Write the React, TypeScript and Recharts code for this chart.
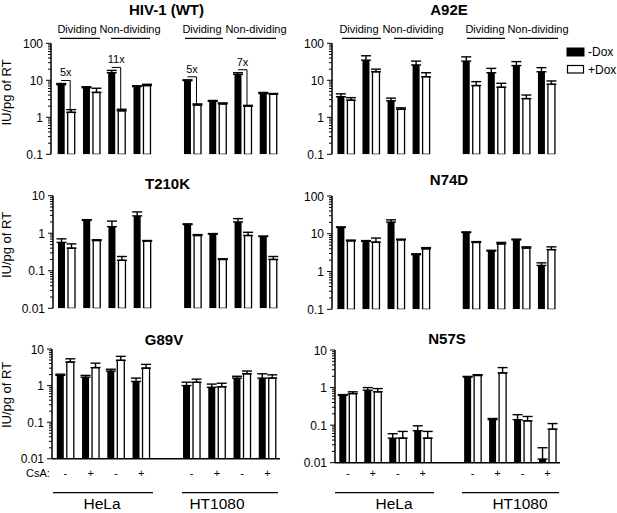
import React from "react";
import { BarChart, Bar, XAxis, YAxis, ErrorBar } from "recharts";

const FONT = "'Liberation Sans', Arial, sans-serif";

// 8 conditions per cell line; a blank slot separates HeLa from HT1080
const groups = [
  "HeLa div -CsA",
  "HeLa div +CsA",
  "HeLa nondiv -CsA",
  "HeLa nondiv +CsA",
  "HT1080 div -CsA",
  "HT1080 div +CsA",
  "HT1080 nondiv -CsA",
  "HT1080 nondiv +CsA",
];
const csaLabels = ["-", "+", "-", "+", "-", "+", "-", "+"];
const seriesNames = ["-Dox", "+Dox"];

// HIV-1 (WT)
const wtNoDox = [7.6, 6.3, 16, 6.8, 9.8, 2.7, 14.5, 4.4];
const wtNoDoxErr = [0.6, 0.4, 2.5, 0.3, 0.5, 0.15, 1.5, 0.3];
const wtDox = [1.36, 4.7, 1.5, 7.2, 2.15, 2.3, 2.0, 4.2];
const wtDoxErr = [0.25, 1.4, 0.15, 0.6, 0.15, 0.15, 0.1, 0.2];
const wtFold = ["5x", "", "11x", "", "5x", "", "7x", ""];

// A92E
const a92eNoDox = [3.6, 35, 2.8, 26, 33, 16, 25, 17];
const a92eNoDoxErr = [0.7, 11, 0.5, 7, 10, 5, 7, 5];
const a92eDox = [2.9, 17, 1.65, 12.5, 7.2, 6.5, 3.2, 7.8];
const a92eDoxErr = [0.5, 3, 0.15, 3.5, 2, 1.8, 0.8, 1.8];

// T210K
const t210kNoDox = [0.57, 2.2, 1.5, 2.9, 1.7, 0.95, 2.0, 0.82];
const t210kNoDoxErr = [0.14, 0.1, 0.6, 0.8, 0.08, 0.03, 0.45, 0.02];
const t210kDox = [0.4, 0.64, 0.19, 0.62, 0.87, 0.2, 0.87, 0.2];
const t210kDoxErr = [0.12, 0.03, 0.05, 0.02, 0.05, 0.01, 0.19, 0.04];

// N74D
const n74dNoDox = [14.7, 6.3, 20.4, 2.8, 10.8, 3.5, 6.9, 1.45];
const n74dNoDoxErr = [0.5, 0.3, 3, 0.15, 0.4, 0.15, 0.3, 0.25];
const n74dDox = [6.5, 6.0, 6.9, 4.0, 5.9, 5.4, 4.2, 3.8];
const n74dDoxErr = [0.3, 1.7, 0.3, 0.3, 0.3, 0.5, 0.3, 0.7];

// G89V
const g89vNoDox = [1.9, 1.7, 2.5, 1.3, 1.0, 0.9, 1.6, 1.6];
const g89vNoDoxErr = [0.15, 0.2, 0.3, 0.3, 0.24, 0.2, 0.2, 0.5];
const g89vDox = [4.4, 3.1, 4.9, 3.0, 1.23, 0.93, 2.1, 1.6];
const g89vDoxErr = [1.0, 1.0, 1.4, 0.8, 0.27, 0.23, 0.4, 0.37];

// N57S
const n57sNoDox = [0.62, 0.85, 0.045, 0.071, 1.9, 0.14, 0.14, 0.0125];
const n57sNoDoxErr = [0.03, 0.15, 0.014, 0.025, 0.08, 0.01, 0.05, 0.0125];
const n57sDox = [0.69, 0.77, 0.045, 0.045, 2.1, 2.45, 0.13, 0.078];
const n57sDoxErr = [0.08, 0.17, 0.023, 0.023, 0.1, 0.95, 0.04, 0.032];

const majorsHigh = [0.1, 1, 10, 100];
const majorsLow = [0.01, 0.1, 1, 10];

function buildRows(noDox: number[], noDoxErr: number[], dox: number[], doxErr: number[], fold?: string[]) {
  const rows: any[] = [];
  groups.forEach((g, i) => {
    if (i === 4) rows.push({ key: "gap", csa: "" });
    rows.push({
      key: g,
      csa: csaLabels[i],
      noDox: noDox[i],
      noDoxE: noDoxErr[i] > 0 ? [0, noDoxErr[i]] : null,
      dox: dox[i],
      doxE: doxErr[i] > 0 ? [0, doxErr[i]] : null,
      noDoxTop: noDox[i] + noDoxErr[i],
      fold: fold ? fold[i] : "",
    });
  });
  return rows;
}

function logTicks(majors: number[]) {
  const out: number[] = [];
  majors.forEach((m, i) => {
    out.push(m);
    if (i < majors.length - 1) for (let k = 2; k <= 9; k++) out.push(m * k);
  });
  return out;
}

const LogTick = (props: any) => {
  const { x, y, payload, majors } = props;
  const major = majors.includes(payload.value);
  return (
    <g>
      <line x1={x - (major ? 5 : 3)} x2={x} y1={y} y2={y} stroke="#000" strokeWidth={1} />
      {major && (
        <text x={x - 8} y={y + 4.5} textAnchor="end" fontSize={12} fontFamily={FONT} fill="#000">
          {String(payload.value)}
        </text>
      )}
    </g>
  );
};

const CsaTick = (props: any) => {
  const { x, payload, textY } = props;
  return (
    <text x={x} y={textY} textAnchor="middle" fontSize={11} fontFamily={FONT} fill="#000">
      {payload.value === "gap" ? "" : csaLabels[groups.indexOf(payload.value)]}
    </text>
  );
};

const makeDoxShape = (min: number) => (props: any) => {
  const { x, y, width, height, payload } = props;
  if (payload == null || payload.dox == null || !(height > 0)) return <g />;
  const rect = <rect x={x} y={y} width={width} height={height} fill="#fff" stroke="#000" strokeWidth={1.3} />;
  if (!payload.fold) return rect;
  const bottom = y + height;
  const ppd = height / Math.log10(payload.dox / min);
  const toY = (v: number) => bottom - ppd * Math.log10(v / min);
  const hy = toY(payload.noDoxTop) - 3;
  const x0 = x - 10 + 3.5;
  const x1 = x + 2.5;
  return (
    <g>
      {rect}
      <polyline points={`${x0},${hy} ${x1},${hy} ${x1},${y - 1}`} fill="none" stroke="#000" strokeWidth={1} />
      <text x={(x0 + x1) / 2} y={hy - 4} textAnchor="middle" fontSize={11} fontFamily={FONT} fill="#000">
        {payload.fold}
      </text>
    </g>
  );
};

interface Geo {
  left: number;
  top: number;
  width: number;
  height: number;
  axisX: number;
  plotTop: number;
  plotBottom: number;
  plotRight: number;
  pad: number;
  csaY?: number;
}

function Panel({ rows, majors, g }: { rows: any[]; majors: number[]; g: Geo }) {
  const xh = g.csaY ? 20 : 0;
  const min = majors[0];
  return (
    <div style={{ position: "absolute", left: g.left, top: g.top }}>
      <BarChart
        width={g.width}
        height={g.height}
        data={rows}
        barSize={7}
        barGap={3}
        margin={{
          top: g.plotTop - g.top,
          bottom: g.top + g.height - g.plotBottom - xh,
          left: 0,
          right: g.left + g.width - g.plotRight,
        }}
      >
        <XAxis
          dataKey="key"
          type="category"
          height={xh}
          interval={0}
          padding={{ left: g.pad, right: 0 }}
          axisLine={{ stroke: "#000", strokeWidth: 1.5 }}
          tickLine={false}
          tickSize={0}
          tick={g.csaY ? <CsaTick textY={g.csaY - g.top} /> : false}
        />
        <YAxis
          type="number"
          scale="log"
          domain={[min, majors[majors.length - 1]]}
          allowDataOverflow
          ticks={logTicks(majors)}
          interval={0}
          width={g.axisX - g.left}
          tickLine={false}
          tickSize={0}
          tickMargin={0}
          tick={<LogTick majors={majors} />}
          axisLine={{ stroke: "#000", strokeWidth: 1.5 }}
        />
        <Bar dataKey="noDox" name={seriesNames[0]} fill="#000" isAnimationActive={false}>
          <ErrorBar dataKey="noDoxE" direction="y" width={5} stroke="#000" strokeWidth={1.4} isAnimationActive={false} />
        </Bar>
        <Bar dataKey="dox" name={seriesNames[1]} fill="#fff" stroke="#000" isAnimationActive={false} shape={makeDoxShape(min)}>
          <ErrorBar dataKey="doxE" direction="y" width={5} stroke="#000" strokeWidth={1.4} isAnimationActive={false} />
        </Bar>
      </BarChart>
    </div>
  );
}

const txt = (x: number, y: number, s: string, size: number, extra: any = {}) => (
  <text x={x} y={y} fontSize={size} fontFamily={FONT} textAnchor="middle" fill="#000" {...extra}>
    {s}
  </text>
);

export default function App() {
  const divCenters1 = [77, 130, 202, 256];
  const divLines1 = [[60, 100], [111, 150], [185, 223], [237, 276]];
  const divCenters2 = [359, 413, 485, 538];
  const divLines2 = [[342, 381], [394, 433], [467, 505], [519, 558]];
  const divNames = ["Dividing", "Non-dividing", "Dividing", "Non-dividing"];
  return (
    <div style={{ position: "absolute", left: 0, top: 0, width: 617, height: 513, background: "#fff", fontFamily: FONT }}>
      <Panel rows={buildRows(wtNoDox, wtNoDoxErr, wtDox, wtDoxErr, wtFold)} majors={majorsHigh}
        g={{ left: 0, top: 0, width: 300, height: 170, axisX: 51, plotTop: 43.3, plotBottom: 154.3, plotRight: 281, pad: 2.7 }} />
      <Panel rows={buildRows(a92eNoDox, a92eNoDoxErr, a92eDox, a92eDoxErr)} majors={majorsHigh}
        g={{ left: 300, top: 0, width: 317, height: 170, axisX: 332, plotTop: 43.3, plotBottom: 154.3, plotRight: 559, pad: 1.4 }} />
      <Panel rows={buildRows(t210kNoDox, t210kNoDoxErr, t210kDox, t210kDoxErr)} majors={majorsLow}
        g={{ left: 0, top: 170, width: 300, height: 160, axisX: 53, plotTop: 195.7, plotBottom: 308.3, plotRight: 281, pad: 1 }} />
      <Panel rows={buildRows(n74dNoDox, n74dNoDoxErr, n74dDox, n74dDoxErr)} majors={majorsHigh}
        g={{ left: 300, top: 170, width: 317, height: 160, axisX: 332, plotTop: 196, plotBottom: 309.3, plotRight: 559, pad: 1.4 }} />
      <Panel rows={buildRows(g89vNoDox, g89vNoDoxErr, g89vDox, g89vDoxErr)} majors={majorsLow}
        g={{ left: 0, top: 330, width: 300, height: 183, axisX: 52, plotTop: 349, plotBottom: 458.8, plotRight: 280, pad: 0.8, csaY: 477 }} />
      <Panel rows={buildRows(n57sNoDox, n57sNoDoxErr, n57sDox, n57sDoxErr)} majors={majorsLow}
        g={{ left: 300, top: 330, width: 317, height: 183, axisX: 335, plotTop: 350, plotBottom: 462.7, plotRight: 560, pad: 0.3, csaY: 476.5 }} />

      <svg width={617} height={513} style={{ position: "absolute", left: 0, top: 0, pointerEvents: "none" }}>
        {txt(166.5, 15, "HIV-1 (WT)", 15, { fontWeight: "bold" })}
        {txt(449, 15, "A92E", 15, { fontWeight: "bold" })}
        {txt(167.5, 189, "T210K", 15, { fontWeight: "bold" })}
        {txt(449, 185, "N74D", 15, { fontWeight: "bold" })}
        {txt(164, 345, "G89V", 15, { fontWeight: "bold" })}
        {txt(447, 344, "N57S", 15, { fontWeight: "bold" })}

        {divNames.map((n, i) => (
          <g key={"d1" + i}>
            {txt(divCenters1[i], 33, n, 11)}
            <line x1={divLines1[i][0]} x2={divLines1[i][1]} y1={38.3} y2={38.3} stroke="#000" strokeWidth={1.2} />
            {txt(divCenters2[i], 33, n, 11)}
            <line x1={divLines2[i][0]} x2={divLines2[i][1]} y1={38.3} y2={38.3} stroke="#000" strokeWidth={1.2} />
          </g>
        ))}

        {[92.5, 245, 395].map((cy, i) => (
          <text key={"yl" + i} x={0} y={0} fontSize={13} fontFamily={FONT} textAnchor="middle"
            transform={`translate(11, ${cy}) rotate(-90)`} fill="#000">
            IU/pg of RT
          </text>
        ))}

        <rect x={567} y={48} width={17} height={8} fill="#000" stroke="#000" strokeWidth={1} />
        <text x={588} y={56} fontSize={12} fontFamily={FONT} fill="#000">{seriesNames[0]}</text>
        <rect x={567.5} y={65.5} width={16} height={7.5} fill="#fff" stroke="#000" strokeWidth={1.2} />
        <text x={588} y={74} fontSize={12} fontFamily={FONT} fill="#000">{seriesNames[1]}</text>

        <text x={26} y={477} fontSize={11} fontFamily={FONT} fill="#000">CsA:</text>
        <line x1={53} x2={153} y1={492.7} y2={492.7} stroke="#000" strokeWidth={1.2} />
        <line x1={182} x2={278} y1={492.7} y2={492.7} stroke="#000" strokeWidth={1.2} />
        <line x1={335} x2={434} y1={492.7} y2={492.7} stroke="#000" strokeWidth={1.2} />
        <line x1={462} x2={559} y1={492.7} y2={492.7} stroke="#000" strokeWidth={1.2} />
        {txt(102, 509, "HeLa", 15.5)}
        {txt(217, 509, "HT1080", 15.5)}
        {txt(394, 509, "HeLa", 15.5)}
        {txt(520, 509, "HT1080", 15.5)}
      </svg>
    </div>
  );
}
